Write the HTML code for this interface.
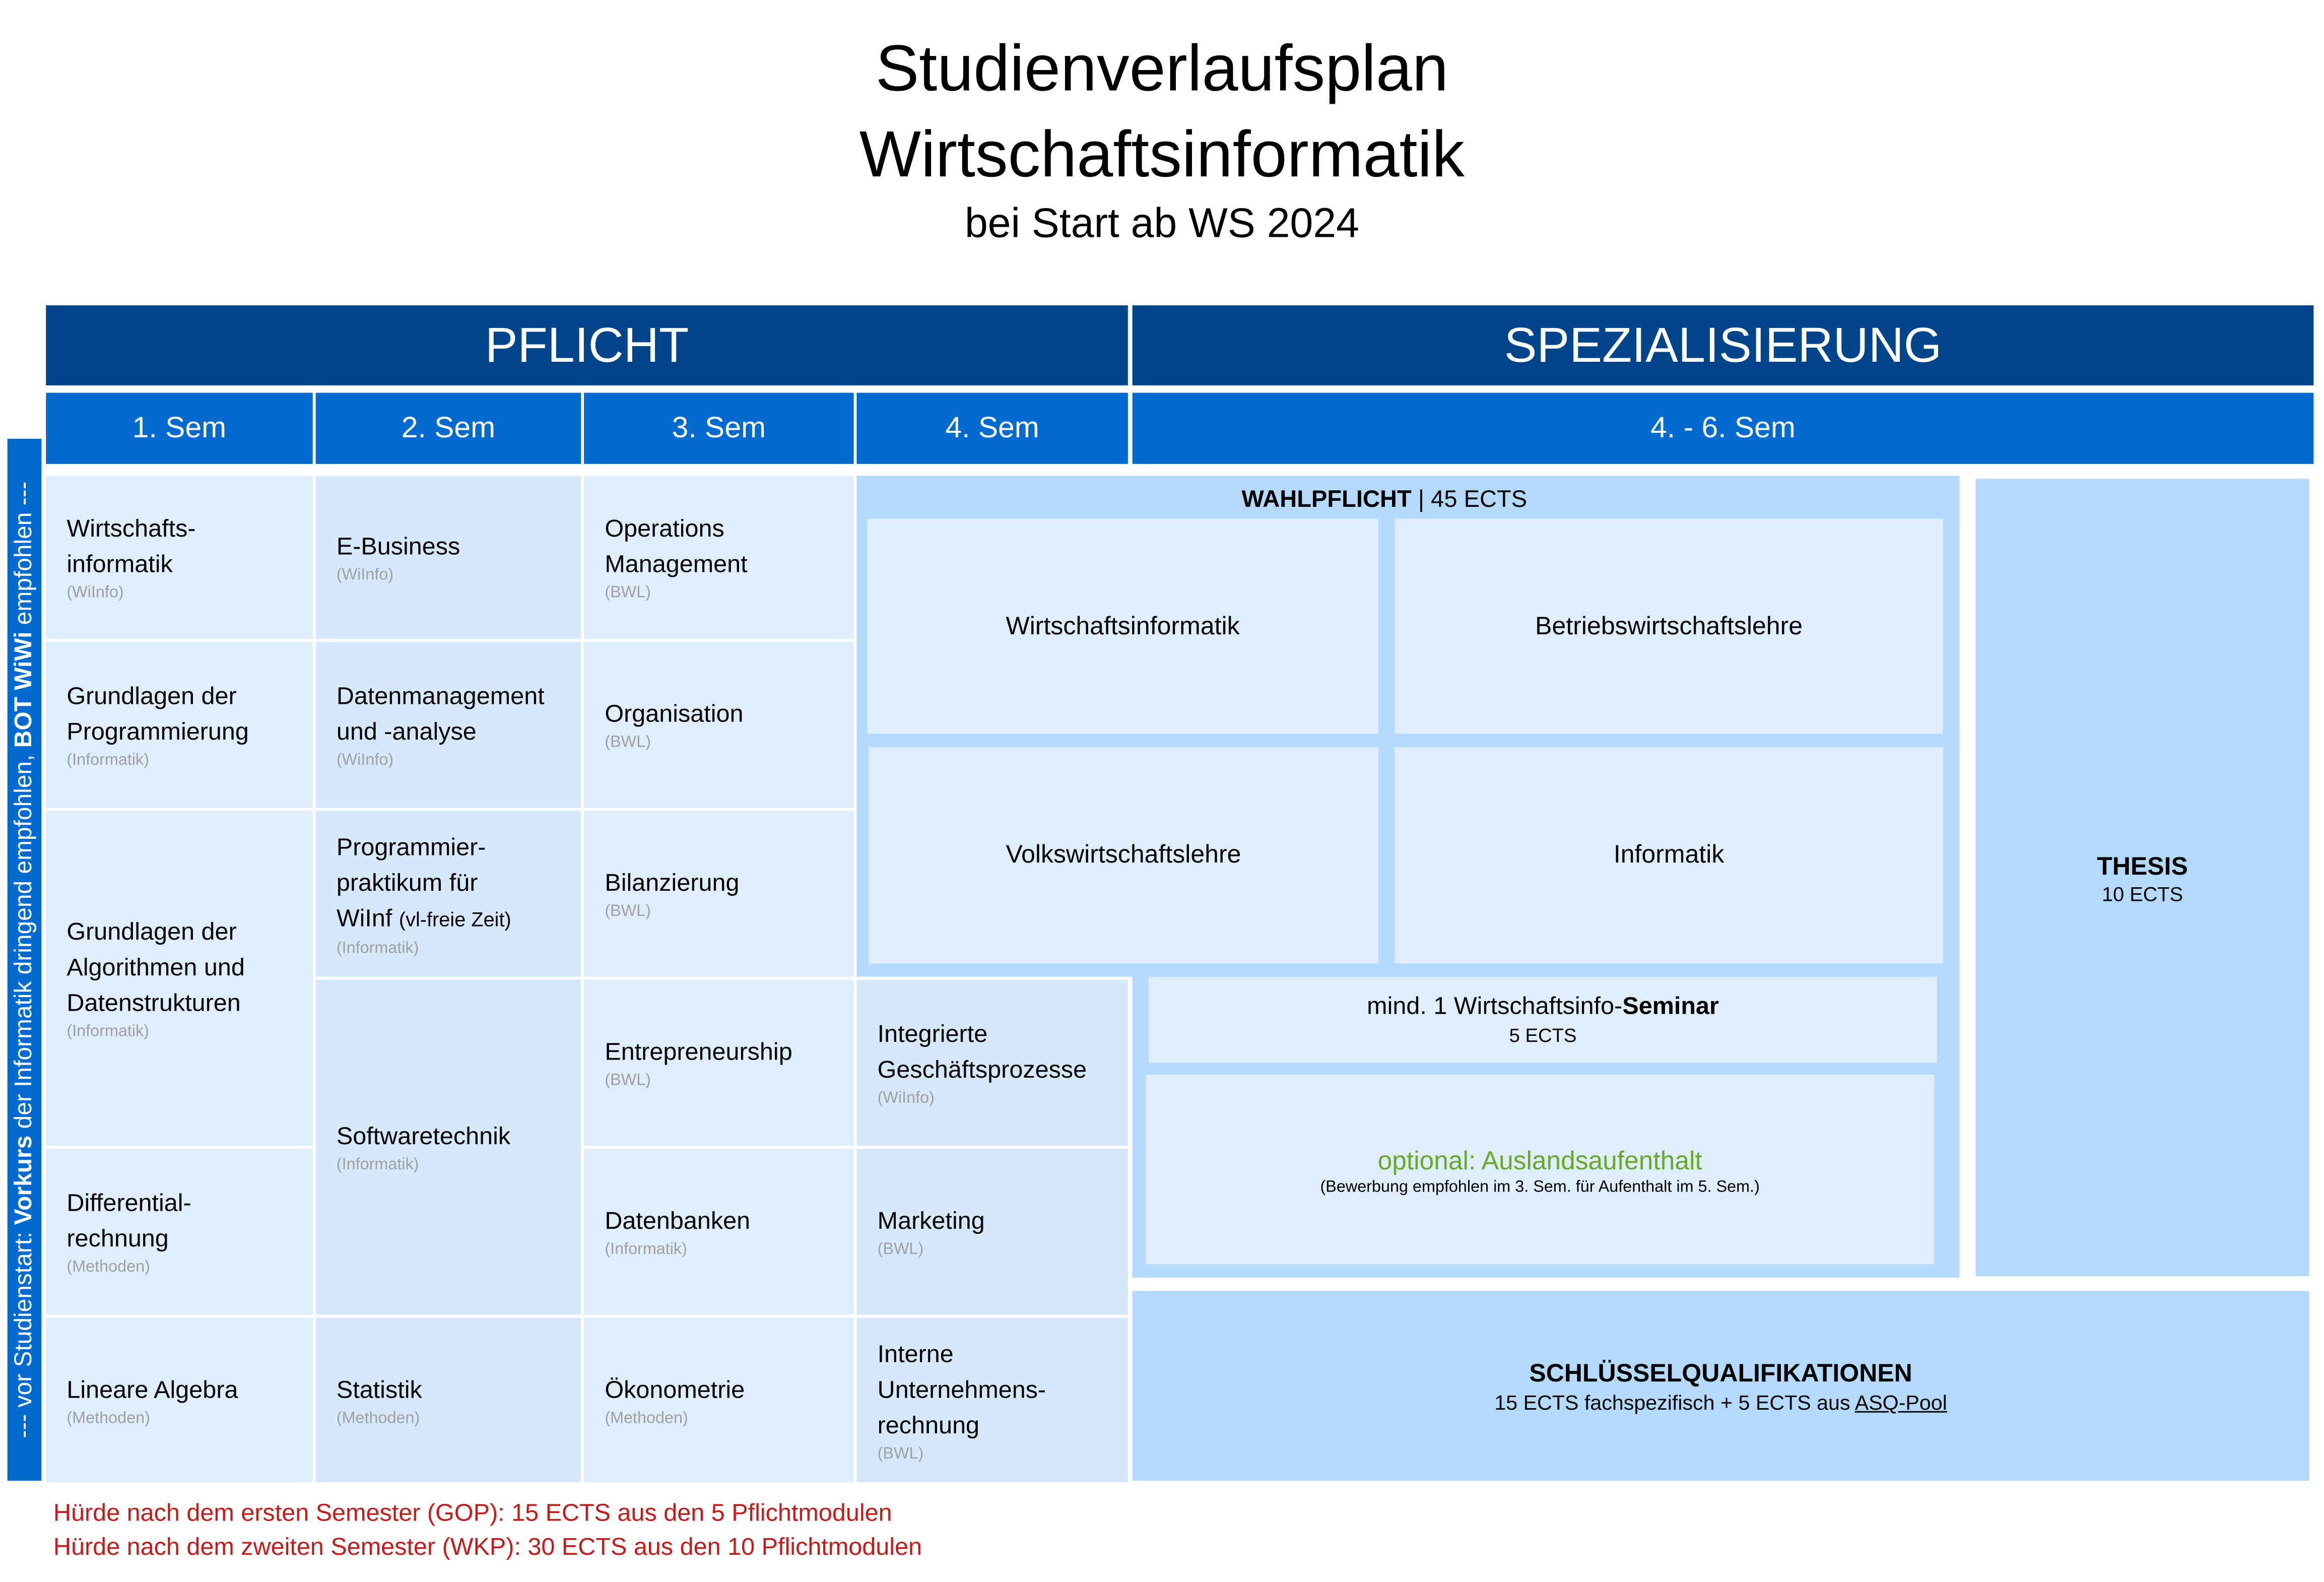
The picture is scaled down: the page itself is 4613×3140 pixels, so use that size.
<!DOCTYPE html>
<html><head><meta charset="utf-8">
<style>
html,body{margin:0;padding:0;background:#fff;}
body{width:4613px;height:3140px;overflow:hidden;position:relative;}
#s{position:absolute;left:0;top:0;width:1568px;height:1067px;transform:scale(2.94196);transform-origin:0 0;font-family:"Liberation Sans",sans-serif;color:#000;}
.a{position:absolute;box-sizing:border-box;}
.c{display:flex;flex-direction:column;justify-content:center;align-items:center;text-align:center;}
.m{display:flex;flex-direction:column;justify-content:center;padding-left:14px;font-size:16.5px;line-height:24px;white-space:nowrap;}
.m small{font-size:11px;color:#a0a0a0;line-height:14px;}
.l1{background:#dfeefd;}
.l2{background:#d6e9fc;}
.mid{background:#b3d9fc;}
.dk{background:#00458b;color:#fff;}
.hd{background:#006ad0;color:#fff;font-size:20px;}
</style></head><body><div id="s">
<div class="a c" style="left:0;top:18px;width:1568px;font-size:44px;line-height:58px;">Studienverlaufsplan<br>Wirtschaftsinformatik</div>
<div class="a c" style="left:0;top:133px;width:1568px;font-size:28px;line-height:36px;">bei Start ab WS 2024</div>

<div class="a c dk" style="left:31px;top:206px;width:730px;height:54px;font-size:33px;">PFLICHT</div>
<div class="a c dk" style="left:764px;top:206px;width:797px;height:54px;font-size:33px;">SPEZIALISIERUNG</div>
<div class="a c hd" style="left:31px;top:265px;width:180px;height:48px;">1. Sem</div>
<div class="a c hd" style="left:213px;top:265px;width:179px;height:48px;">2. Sem</div>
<div class="a c hd" style="left:394px;top:265px;width:182px;height:48px;">3. Sem</div>
<div class="a c hd" style="left:578px;top:265px;width:183px;height:48px;">4. Sem</div>
<div class="a c hd" style="left:764px;top:265px;width:797px;height:48px;">4. - 6. Sem</div>

<div class="a" style="left:5px;top:296px;width:23px;height:703px;background:#006ad0;"></div>
<div class="a" style="left:-335px;top:636px;width:703px;height:23px;line-height:23px;text-align:center;transform:rotate(-90deg);color:#fff;font-size:16.3px;white-space:nowrap;">--- vor Studienstart: <b>Vorkurs</b> der Informatik dringend empfohlen, <b>BOT WiWi</b> empfohlen ---</div>

<!-- col1 -->
<div class="a m l1" style="left:31px;top:321px;width:180px;height:110px;">Wirtschafts-<br>informatik<small>(WiInfo)</small></div>
<div class="a m l1" style="left:31px;top:433px;width:180px;height:112px;">Grundlagen der<br>Programmierung<small>(Informatik)</small></div>
<div class="a m l1" style="left:31px;top:547px;width:180px;height:226px;">Grundlagen der<br>Algorithmen und<br>Datenstrukturen<small>(Informatik)</small></div>
<div class="a m l1" style="left:31px;top:775px;width:180px;height:112px;">Differential-<br>rechnung<small>(Methoden)</small></div>
<div class="a m l1" style="left:31px;top:889px;width:180px;height:111px;">Lineare Algebra<small>(Methoden)</small></div>
<!-- col2 -->
<div class="a m l2" style="left:213px;top:321px;width:179px;height:110px;">E-Business<small>(WiInfo)</small></div>
<div class="a m l2" style="left:213px;top:433px;width:179px;height:112px;">Datenmanagement<br>und -analyse<small>(WiInfo)</small></div>
<div class="a m l2" style="left:213px;top:547px;width:179px;height:112px;"><span>Programmier-<br>praktikum für<br>WiInf <span style="font-size:13.5px">(vl-freie Zeit)</span></span><small>(Informatik)</small></div>
<div class="a m l2" style="left:213px;top:661px;width:179px;height:226px;">Softwaretechnik<small>(Informatik)</small></div>
<div class="a m l2" style="left:213px;top:889px;width:179px;height:111px;">Statistik<small>(Methoden)</small></div>
<!-- col3 -->
<div class="a m l1" style="left:394px;top:321px;width:182px;height:110px;">Operations<br>Management<small>(BWL)</small></div>
<div class="a m l1" style="left:394px;top:433px;width:182px;height:112px;">Organisation<small>(BWL)</small></div>
<div class="a m l1" style="left:394px;top:547px;width:182px;height:112px;">Bilanzierung<small>(BWL)</small></div>
<div class="a m l1" style="left:394px;top:661px;width:182px;height:112px;">Entrepreneurship<small>(BWL)</small></div>
<div class="a m l1" style="left:394px;top:775px;width:182px;height:112px;">Datenbanken<small>(Informatik)</small></div>
<div class="a m l1" style="left:394px;top:889px;width:182px;height:111px;">Ökonometrie<small>(Methoden)</small></div>
<!-- col4 -->
<div class="a m l2" style="left:578px;top:661px;width:183px;height:112px;">Integrierte<br>Geschäftsprozesse<small>(WiInfo)</small></div>
<div class="a m l2" style="left:578px;top:775px;width:183px;height:112px;">Marketing<small>(BWL)</small></div>
<div class="a m l2" style="left:578px;top:889px;width:183px;height:111px;">Interne<br>Unternehmens-<br>rechnung<small>(BWL)</small></div>

<!-- Wahlpflicht -->
<div class="a mid" style="left:578px;top:321px;width:744px;height:338px;"></div>
<div class="a mid" style="left:764px;top:657px;width:558px;height:205px;"></div>
<div class="a c" style="left:578px;top:327px;width:712px;height:22px;font-size:16px;"><span><b>WAHLPFLICHT</b> | 45 ECTS</span></div>
<div class="a c l1" style="left:585px;top:350px;width:345px;height:145px;font-size:17px;">Wirtschaftsinformatik</div>
<div class="a c l1" style="left:941px;top:350px;width:370px;height:145px;font-size:17px;">Betriebswirtschaftslehre</div>
<div class="a c l1" style="left:586px;top:504px;width:344px;height:146px;font-size:17px;">Volkswirtschaftslehre</div>
<div class="a c l1" style="left:941px;top:504px;width:370px;height:146px;font-size:17px;">Informatik</div>
<div class="a c l1" style="left:775px;top:659px;width:532px;height:58px;font-size:16.5px;line-height:22px;"><span>mind. 1 Wirtschaftsinfo-<b>Seminar</b></span><span style="font-size:13px;line-height:18px;">5 ECTS</span></div>
<div class="a c l1" style="left:773px;top:725px;width:532px;height:128px;"><span style="color:#6aa82a;font-size:17.5px;line-height:24px;">optional: Auslandsaufenthalt</span><span style="font-size:11px;">(Bewerbung empfohlen im 3. Sem. für Aufenthalt im 5. Sem.)</span></div>

<div class="a c mid" style="left:1333px;top:323px;width:225px;height:538px;"><b style="font-size:17px;line-height:22px;">THESIS</b><span style="font-size:13.5px;">10 ECTS</span></div>
<div class="a c mid" style="left:764px;top:871px;width:794px;height:128px;"><b style="font-size:17px;line-height:22px;">SCHLÜSSELQUALIFIKATIONEN</b><span style="font-size:14px;">15 ECTS fachspezifisch + 5 ECTS aus <u>ASQ-Pool</u></span></div>

<div class="a" style="left:36px;top:1010px;font-size:16.5px;line-height:22.5px;color:#c41a1a;white-space:nowrap;">Hürde nach dem ersten Semester (GOP): 15 ECTS aus den 5 Pflichtmodulen<br>Hürde nach dem zweiten Semester (WKP): 30 ECTS aus den 10 Pflichtmodulen</div>
</div></body></html>
